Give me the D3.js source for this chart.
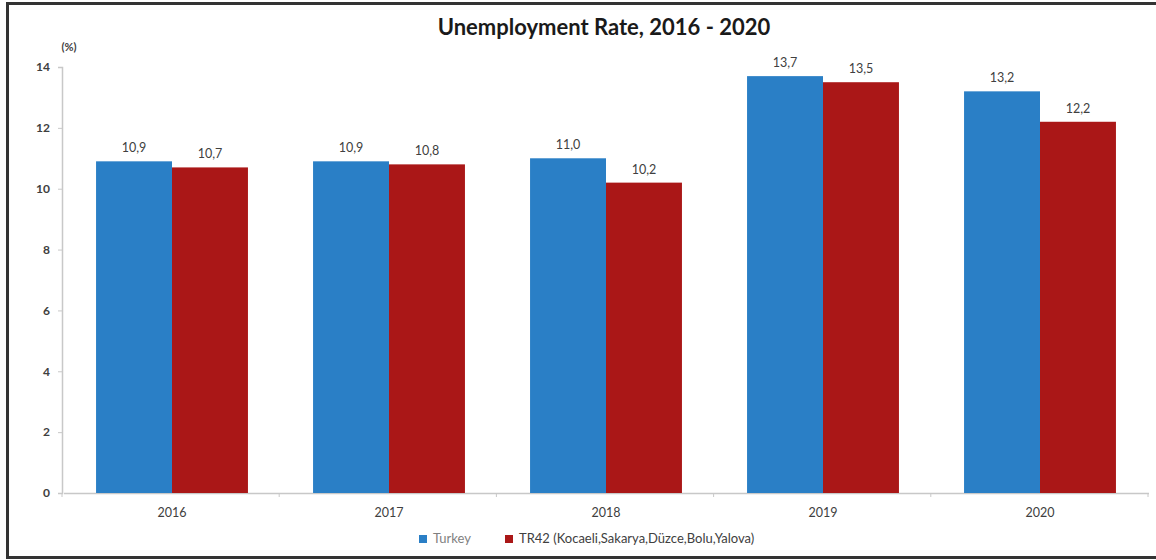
<!DOCTYPE html>
<html><head><meta charset="utf-8">
<script src="https://cdn.jsdelivr.net/npm/d3@7"></script>
<style>body{margin:0;background:#fff}svg{display:block}</style>
</head><body>
<script>
const categories = ["2016","2017","2018","2019","2020"];
const seriesNames = ["Turkey","TR42 (Kocaeli,Sakarya,Düzce,Bolu,Yalova)"];
const turkey = [10.9,10.9,11.0,13.7,13.2];
const tr42 = [10.7,10.8,10.2,13.5,12.2];
const yTicks = [0,2,4,6,8,10,12,14];
const colors = ["#2a7fc6","#aa1717"];

const W=1156,H=560;
const svg=d3.select("body").append("svg").attr("width",W).attr("height",H);
svg.append("rect").attr("x",0).attr("y",0).attr("width",W).attr("height",H).attr("fill","#fff");
svg.append("rect").attr("x",7.5).attr("y",3.5).attr("width",1160).attr("height",554)
  .attr("fill","none").attr("stroke","#333").attr("stroke-width",3);

const font="Lato, 'Open Sans', sans-serif";
const x0=d3.scaleBand().domain(categories).range([63.5,1148.5]).paddingInner(0.3).paddingOuter(0.15);
const x1=d3.scaleBand().domain([0,1]).range([0,x0.bandwidth()]);
const y=d3.scaleLinear().domain([0,14]).range([493,67]);

// y axis
const ya=svg.append("g").attr("transform","translate(62,0)")
  .call(d3.axisLeft(y).tickValues(yTicks).tickSize(4).tickPadding(8));
ya.select(".domain").attr("stroke","#c8c8c8").attr("stroke-width",1.5);
ya.selectAll(".tick line").attr("stroke","#c8c8c8");
ya.selectAll("text").attr("font-family",font).attr("font-size",12).attr("font-weight","bold").attr("fill","#404040");

// x axis
const xa=svg.append("g").attr("transform","translate(0,493)")
  .call(d3.axisBottom(x0).tickSize(0).tickPadding(15));
xa.select(".domain").attr("stroke","#c8c8c8").attr("stroke-width",1.5);
xa.selectAll("text").attr("font-family",font).attr("font-size",12.5).attr("fill","#404040");
// category boundary ticks
const bounds=[0,1,2,3,4,5].map(i=>62+i*(1148-62)/5);
svg.append("g").selectAll("line").data(bounds).join("line")
  .attr("x1",d=>d).attr("x2",d=>d).attr("y1",493).attr("y2",497).attr("stroke","#c8c8c8");

const data=categories.map((c,i)=>({c,vals:[turkey[i],tr42[i]]}));
const g=svg.append("g").selectAll("g").data(data).join("g")
  .attr("transform",d=>`translate(${x0(d.c)},0)`);
g.selectAll("rect").data(d=>d.vals.map((v,k)=>({v,k}))).join("rect")
  .attr("x",d=>x1(d.k)).attr("width",x1.bandwidth())
  .attr("y",d=>y(d.v)).attr("height",d=>y(0)-y(d.v)).attr("fill",d=>colors[d.k]);
g.selectAll("text").data(d=>d.vals.map((v,k)=>({v,k}))).join("text")
  .attr("x",d=>x1(d.k)+x1.bandwidth()/2).attr("y",d=>y(d.v)-9)
  .attr("text-anchor","middle").attr("font-family",font).attr("font-size",12.5)
  .attr("fill","#404040").text(d=>d.v.toFixed(1).replace(".",","));

// title
svg.append("text").attr("x",604).attr("y",35).attr("text-anchor","middle")
  .attr("font-family",font).attr("font-weight","bold").attr("font-size",22).attr("fill","#1a1a1a")
  .text("Unemployment Rate, 2016 - 2020");
svg.append("text").attr("x",69).attr("y",51).attr("text-anchor","middle")
  .attr("font-family",font).attr("font-size",11).attr("font-weight","bold").attr("fill","#404040").text("(%)");

// legend
const leg=[{x:419,t:seriesNames[0],c:colors[0],tc:"#7f7f7f"},{x:505,t:seriesNames[1],c:colors[1],tc:"#404040"}];
leg.forEach(l=>{
  svg.append("rect").attr("x",l.x).attr("y",535).attr("width",8).attr("height",8).attr("fill",l.c);
  svg.append("text").attr("x",l.x+14).attr("y",543).attr("font-family",font).attr("font-size",13)
    .attr("fill",l.tc).text(l.t);
});
</script>
</body></html>
